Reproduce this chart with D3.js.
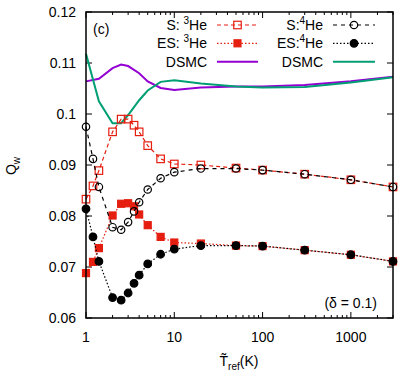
<!DOCTYPE html>
<html>
<head>
<meta charset="utf-8">
<script src="https://cdn.jsdelivr.net/npm/d3@7"></script>
<style>
  body { margin: 0; background: #fff; }
  svg text { font-family: "Liberation Sans", Arial, sans-serif; }
</style>
</head>
<body>
<svg id="drawing_region"></svg>
<script>
// temperatures for the kinetic model points
const temps = [1, 1.2, 1.4, 2, 2.5, 3, 3.5, 4, 5, 7, 10, 20, 50, 100, 300, 1000, 3000];
const s_he3  = [0.0833, 0.0859, 0.0889, 0.0965, 0.0990, 0.0990, 0.0978, 0.0965, 0.0938, 0.0912, 0.0902, 0.0900, 0.0894, 0.0890, 0.0882, 0.0871, 0.0857];
const es_he3 = [0.0688, 0.0710, 0.0737, 0.0801, 0.0824, 0.0825, 0.0819, 0.0803, 0.0782, 0.0759, 0.0748, 0.0746, 0.0742, 0.0741, 0.0733, 0.0724, 0.0711];
const s_he4  = [0.0975, 0.0912, 0.0857, 0.0778, 0.0773, 0.0788, 0.0809, 0.0827, 0.0852, 0.0874, 0.0886, 0.0893, 0.0893, 0.0890, 0.0882, 0.0871, 0.0857];
const es_he4 = [0.0814, 0.0759, 0.0711, 0.0640, 0.0635, 0.0649, 0.0668, 0.0684, 0.0706, 0.0725, 0.0735, 0.0742, 0.0742, 0.0741, 0.0733, 0.0724, 0.0711];

// DSMC curves
const dsmc_t   = [1, 1.4, 2, 2.5, 3, 4, 5, 7, 10, 20, 50, 100, 300, 1000, 3000];
const dsmc_he3 = [0.1064, 0.1069, 0.1090, 0.1097, 0.1094, 0.1080, 0.1064, 0.1051, 0.1047, 0.1052, 0.1054, 0.1054, 0.1057, 0.1064, 0.1073];
const dsmc_he4 = [0.1118, 0.1025, 0.0982, 0.0982, 0.0998, 0.1027, 0.1046, 0.1063, 0.1066, 0.1060, 0.1054, 0.1052, 0.1053, 0.1062, 0.1072];

const yticks = [0.06, 0.07, 0.08, 0.09, 0.1, 0.11, 0.12];
const xticks = [1, 10, 100, 1000];

const red = '#e51e10', purple = '#9400d3', green = '#009e73';

const config = {
    width: 398,
    height: 373,
    margin: {top: 12, right: 5, bottom: 55, left: 86}
};

const svg = d3.select('#drawing_region')
    .attr('width', config.width)
    .attr('height', config.height);

const inner_width = config.width - config.margin.left - config.margin.right;
const inner_height = config.height - config.margin.top - config.margin.bottom;

const chart = svg.append('g')
    .attr('transform', `translate(${config.margin.left}, ${config.margin.top})`);

const xscale = d3.scaleLog().domain([1, 3000]).range([0, inner_width]);
const yscale = d3.scaleLinear().domain([0.06, 0.12]).range([inner_height, 0]);

// minor ticks for the log axis
const minor = [];
for (let e = 0; e < 4; e++) {
    for (let m = 2; m <= 9; m++) {
        const v = m * Math.pow(10, e);
        if (v <= 3000) minor.push(v);
    }
}

const axes = chart.append('g');
// bottom and top ticks (inward)
axes.selectAll('.xmaj').data(xticks).enter().append('g').each(function(d) {
    const x = xscale(d);
    const g = d3.select(this);
    g.append('line').attr('x1', x).attr('x2', x).attr('y1', inner_height).attr('y2', inner_height - 6);
    g.append('line').attr('x1', x).attr('x2', x).attr('y1', 0).attr('y2', 6);
});
axes.selectAll('.xmin').data(minor).enter().append('g').each(function(d) {
    const x = xscale(d);
    const g = d3.select(this);
    g.append('line').attr('x1', x).attr('x2', x).attr('y1', inner_height).attr('y2', inner_height - 3);
    g.append('line').attr('x1', x).attr('x2', x).attr('y1', 0).attr('y2', 3);
});
axes.selectAll('.ymaj').data(yticks).enter().append('g').each(function(d) {
    const y = yscale(d);
    const g = d3.select(this);
    g.append('line').attr('x1', 0).attr('x2', 6).attr('y1', y).attr('y2', y);
    g.append('line').attr('x1', inner_width).attr('x2', inner_width - 6).attr('y1', y).attr('y2', y);
});
axes.selectAll('line').attr('stroke', '#000').attr('stroke-width', 1);

// tick labels
chart.selectAll('.xlab').data(xticks).enter().append('text')
    .attr('x', d => xscale(d))
    .attr('y', inner_height + 24)
    .attr('text-anchor', 'middle')
    .attr('font-size', '14px')
    .text(d => d);
chart.selectAll('.ylab').data(yticks).enter().append('text')
    .attr('x', -10)
    .attr('y', d => yscale(d) + 5)
    .attr('text-anchor', 'end')
    .attr('font-size', '14px')
    .text(d => d3.format('')(d));

// DSMC lines
const line = d3.line()
    .x(d => xscale(d[0]))
    .y(d => yscale(d[1]));

chart.append('path')
    .attr('d', line(dsmc_t.map((t, i) => [t, dsmc_he3[i]])))
    .attr('fill', 'none').attr('stroke', purple).attr('stroke-width', 2);
chart.append('path')
    .attr('d', line(dsmc_t.map((t, i) => [t, dsmc_he4[i]])))
    .attr('fill', 'none').attr('stroke', green).attr('stroke-width', 2);

// point series
const series = [
    {vals: s_he3,  color: red,    dash: '4,3',     shape: 'square', fill: false},
    {vals: s_he4,  color: '#000', dash: '4,4',     shape: 'circle', fill: false},
    {vals: es_he3, color: red,    dash: '1.5,2',   shape: 'square', fill: true},
    {vals: es_he4, color: '#000', dash: '1.5,2',   shape: 'circle', fill: true}
];

function marker(g, s, x, y) {
    if (s.shape === 'square') {
        const a = s.fill ? 7 : 7.5;
        g.append('rect')
            .attr('x', x - a / 2).attr('y', y - a / 2)
            .attr('width', a).attr('height', a)
            .attr('fill', s.fill ? s.color : 'none')
            .attr('stroke', s.color).attr('stroke-width', 1.2);
    } else {
        g.append('circle')
            .attr('cx', x).attr('cy', y)
            .attr('r', s.fill ? 3.8 : 3.7)
            .attr('fill', s.fill ? s.color : 'none')
            .attr('stroke', s.color).attr('stroke-width', 1.2);
    }
}

const plotOrder = [0, 2, 1, 3];
plotOrder.forEach(k => {
    const s = series[k];
    const pts = temps.map((t, i) => [t, s.vals[i]]);
    chart.append('path')
        .attr('d', line(pts))
        .attr('fill', 'none').attr('stroke', s.color)
        .attr('stroke-width', 1.2).attr('stroke-dasharray', s.dash);
    const g = chart.append('g');
    pts.forEach(p => marker(g, s, xscale(p[0]), yscale(p[1])));
});

// frame
chart.append('rect')
    .attr('width', inner_width).attr('height', inner_height)
    .attr('fill', 'none').attr('stroke', '#000').attr('stroke-width', 1.5);

// legend
const legend = svg.append('g');
const rows = [
    {label: ['S: ', '3', 'He'],  s: series[0], col: 0, row: 0},
    {label: ['ES: ', '3', 'He'], s: series[2], col: 0, row: 1},
    {label: ['DSMC'],            s: {color: purple}, col: 0, row: 2},
    {label: ['S:', '4', 'He'],   s: series[1], col: 1, row: 0},
    {label: ['ES:', '4', 'He'],  s: series[3], col: 1, row: 1},
    {label: ['DSMC'],            s: {color: green}, col: 1, row: 2}
];
const colText = [207, 323];
const colLine = [[217, 258], [333, 375]];
const rowY = [25, 43.3, 61.7];

rows.forEach(r => {
    const y = rowY[r.row];
    const t = legend.append('text')
        .attr('x', colText[r.col]).attr('y', y + 5)
        .attr('text-anchor', 'end').attr('font-size', '14px');
    if (r.label.length === 1) {
        t.text(r.label[0]);
    } else {
        t.append('tspan').text(r.label[0]);
        t.append('tspan').attr('font-size', '10px').attr('dy', -6).text(r.label[1]);
        t.append('tspan').attr('dy', 6).text(r.label[2]);
    }
    const [x1, x2] = colLine[r.col];
    const l = legend.append('line')
        .attr('x1', x1).attr('x2', x2).attr('y1', y).attr('y2', y)
        .attr('stroke', r.s.color);
    if (r.s.shape) {
        l.attr('stroke-width', 1.2).attr('stroke-dasharray', r.s.dash);
        marker(legend, r.s, (x1 + x2) / 2, y);
    } else {
        l.attr('stroke-width', 2);
    }
});

svg.append('text')
    .attr('x', 93).attr('y', 34)
    .attr('font-size', '14px')
    .text('(c)');

svg.append('text')
    .attr('x', 377).attr('y', 308)
    .attr('text-anchor', 'end').attr('font-size', '14px')
    .text('(δ = 0.1)');

// axis titles
const xt = svg.append('text')
    .attr('x', 239).attr('y', 366)
    .attr('text-anchor', 'middle').attr('font-size', '14px');
xt.append('tspan').text('T\u0303');
xt.append('tspan').attr('font-size', '10px').attr('dy', 4).text('ref');
xt.append('tspan').attr('dy', -4).text('(K)');

const yt = svg.append('text')
    .attr('transform', 'translate(16, 166) rotate(-90)')
    .attr('text-anchor', 'middle').attr('font-size', '14px');
yt.append('tspan').text('Q');
yt.append('tspan').attr('font-size', '10px').attr('dy', 4).text('w');
</script>
</body>
</html>
